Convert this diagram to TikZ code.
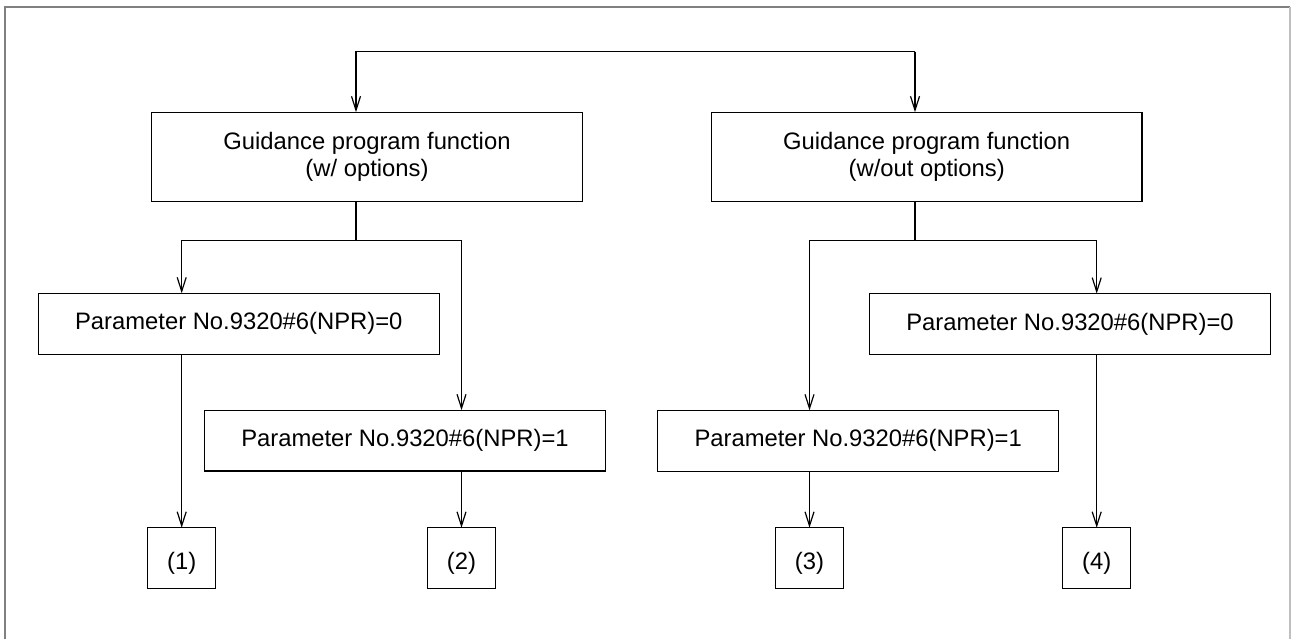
\documentclass[tikz,border=0pt]{standalone}
\usepackage{fontspec}
\setmainfont{Liberation Sans}
\usetikzlibrary{arrows.meta}

\begin{document}
\begin{tikzpicture}[x=0.5pt, y=-0.5pt, line width=0.6pt,
		font=\fontsize{11.9pt}{13.6pt}\selectfont,
		guidebox/.style={draw, inner sep=0pt, outer sep=0pt, minimum width=215.3pt, minimum height=44.8pt, align=center,
			execute at begin node=\rule{0pt}{12.6pt}},
		parbox/.style={draw, inner sep=0pt, outer sep=0pt, minimum width=200.5pt, minimum height=30.4pt},
		casebox/.style={draw, inner sep=0pt, outer sep=0pt, minimum width=34pt, minimum height=30.3pt,
			execute at begin node=\rule{0pt}{13.6pt}},
		flow/.style={-{Straight Barb[length=7pt,width=4.5pt]}}]

		\useasboundingbox (0,0) rectangle (1300,639);
		\draw[black!50, line width=1pt] (5,639) -- (5,6.5) -- (1290,6.5);
		\draw[black!25, line width=1pt] (1290,6.5) -- (1290,639);

		\coordinate (topL) at (356,51.7);
		\coordinate (topR) at (915,51.7);
		\coordinate (splitL) at (356,240.7);
		\coordinate (splitR) at (915,240.7);

		\node[guidebox] (gw) at (367,157) {Guidance program function\\(w/ options)};
		\node[guidebox] (gwo) at (926.7,157) {Guidance program function\\(w/out options)};

		\node[parbox] (p0l) at (238.8,323.7) {Parameter No.9320\#6(NPR)=0};
		\node[parbox] (p1l) at (405,440.6) {Parameter No.9320\#6(NPR)=1};
		\node[parbox] (p1r) at (858.2,440.7) {Parameter No.9320\#6(NPR)=1};
		\node[parbox] (p0r) at (1070,324) {Parameter No.9320\#6(NPR)=0};

		\node[casebox] (c1) at (181.7,558) {(1)};
		\node[casebox] (c2) at (461.5,558) {(2)};
		\node[casebox] (c3) at (809.5,558) {(3)};
		\node[casebox] (c4) at (1096.7,558) {(4)};

		\draw[flow] (topR) -- (topL) -- (gw.north -| topL);
		\draw[flow] (topR) -- (gwo.north -| topR);

		\draw (gw.south -| splitL) -- (splitL);
		\draw[flow] (splitL) -| (p0l.north -| c1);
		\draw[flow] (splitL) -| (p1l.north -| c2);
		\draw (gwo.south -| splitR) -- (splitR);
		\draw[flow] (splitR) -| (p1r.north -| c3);
		\draw[flow] (splitR) -| (p0r.north -| c4);

		\draw[flow] (p0l.south -| c1) -- (c1);
		\draw[flow] (p1l.south -| c2) -- (c2);
		\draw[flow] (p1r.south -| c3) -- (c3);
		\draw[flow] (p0r.south -| c4) -- (c4);
	\end{tikzpicture}
\end{document}
